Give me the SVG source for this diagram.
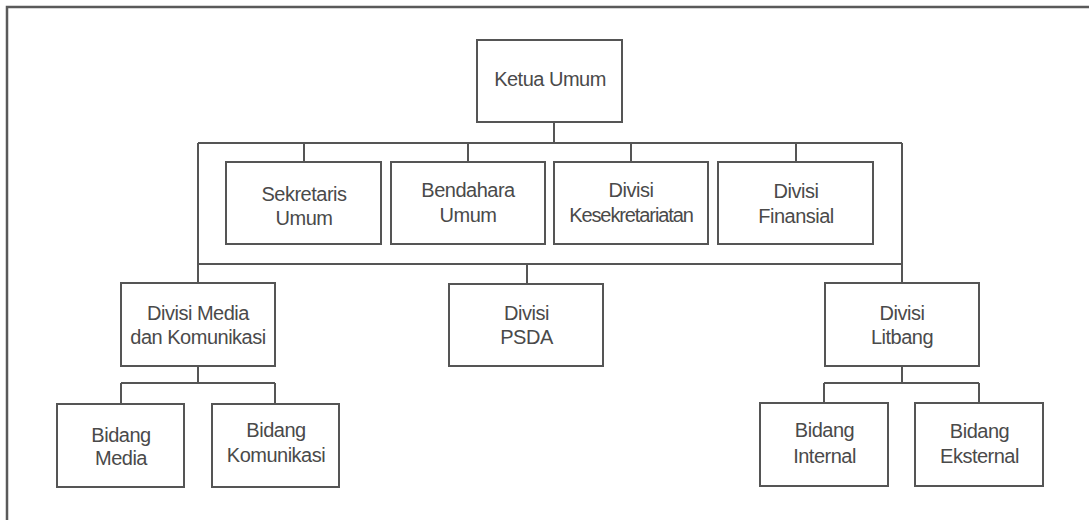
<svg xmlns="http://www.w3.org/2000/svg" width="1089" height="520" viewBox="0 0 1089 520">
<style>
  .box { fill: #ffffff; stroke: #555555; stroke-width: 2; }
  .lbl { font-family: "Liberation Sans", Arial, sans-serif; font-size: 20px; letter-spacing: -0.5px; fill: #4a4a4a; text-anchor: middle; }
  .conn path { fill: none; stroke: #555555; stroke-width: 2; }
  .frame { fill: none; stroke: #5a5a5a; stroke-width: 2.5; }
</style>
<rect x="0" y="0" width="1089" height="520" fill="#ffffff"/>
<path class="frame" d="M7,520 V7 H1089"/>
<g id="connectors" class="conn">
  <path d="M554,122 V143"/>
  <path d="M198,143 H902"/>
  <path d="M304,143 V162"/>
  <path d="M468,143 V162"/>
  <path d="M631,143 V162"/>
  <path d="M796,143 V162"/>
  <path d="M198,143 V283"/>
  <path d="M902,143 V283"/>
  <path d="M198,264 H902"/>
  <path d="M527,264 V284"/>
  <path d="M198,366 V383 M121,383 H275 M121,383 V404 M275,383 V404"/>
  <path d="M902,366 V383 M824,383 H979 M824,383 V403 M979,383 V403"/>
</g>
<g id="ketua-umum">
  <rect class="box" x="477" y="40" width="145" height="82"/>
  <text class="lbl" x="550" y="86">Ketua Umum</text>
</g>
<g id="sekretaris-umum">
  <rect class="box" x="226" y="162" width="155" height="82"/>
  <text class="lbl" x="304" y="201">Sekretaris</text>
  <text class="lbl" x="304" y="225">Umum</text>
</g>
<g id="bendahara-umum">
  <rect class="box" x="391" y="162" width="154" height="82"/>
  <text class="lbl" x="468" y="197">Bendahara</text>
  <text class="lbl" x="468" y="222">Umum</text>
</g>
<g id="divisi-kesekretariatan">
  <rect class="box" x="554" y="162" width="154" height="82"/>
  <text class="lbl" x="631" y="197">Divisi</text>
  <text class="lbl" x="631" y="222" style="letter-spacing:-1.1px">Kesekretariatan</text>
</g>
<g id="divisi-finansial">
  <rect class="box" x="718" y="162" width="155" height="82"/>
  <text class="lbl" x="796" y="198">Divisi</text>
  <text class="lbl" x="796" y="223">Finansial</text>
</g>
<g id="divisi-media-komunikasi">
  <rect class="box" x="121" y="283" width="154" height="83"/>
  <text class="lbl" x="198" y="320">Divisi Media</text>
  <text class="lbl" x="198" y="344">dan Komunikasi</text>
</g>
<g id="divisi-psda">
  <rect class="box" x="449" y="284" width="154" height="82"/>
  <text class="lbl" x="526.5" y="320">Divisi</text>
  <text class="lbl" x="526.5" y="344">PSDA</text>
</g>
<g id="divisi-litbang">
  <rect class="box" x="825" y="283" width="154" height="83"/>
  <text class="lbl" x="902" y="320">Divisi</text>
  <text class="lbl" x="902" y="344">Litbang</text>
</g>
<g id="bidang-media">
  <rect class="box" x="57" y="404" width="127" height="83"/>
  <text class="lbl" x="121" y="442">Bidang</text>
  <text class="lbl" x="121" y="465">Media</text>
</g>
<g id="bidang-komunikasi">
  <rect class="box" x="212" y="404" width="127" height="83"/>
  <text class="lbl" x="276" y="437">Bidang</text>
  <text class="lbl" x="276" y="462">Komunikasi</text>
</g>
<g id="bidang-internal">
  <rect class="box" x="760" y="403" width="128" height="83"/>
  <text class="lbl" x="824.5" y="437">Bidang</text>
  <text class="lbl" x="824.5" y="463">Internal</text>
</g>
<g id="bidang-eksternal">
  <rect class="box" x="915" y="403" width="128" height="83"/>
  <text class="lbl" x="979.5" y="438">Bidang</text>
  <text class="lbl" x="979.5" y="463">Eksternal</text>
</g>
</svg>
